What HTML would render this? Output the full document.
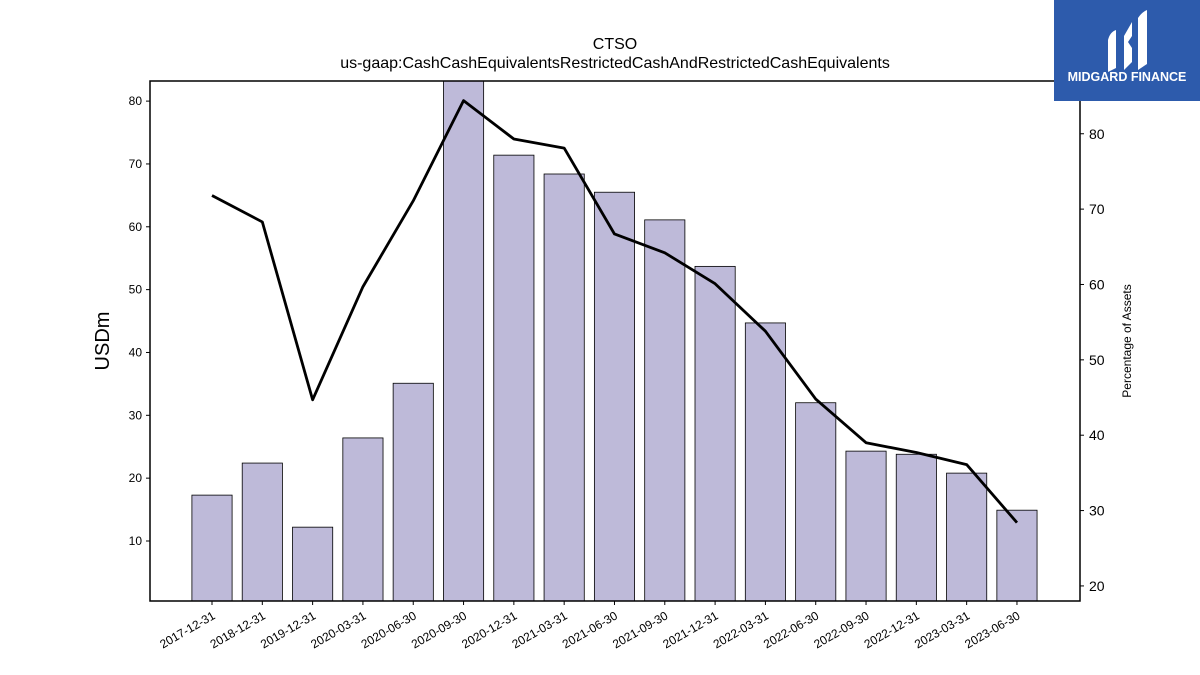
<!DOCTYPE html>
<html><head><meta charset="utf-8"><style>
body{margin:0;background:#fff;font-family:"Liberation Sans","DejaVu Sans",sans-serif}
svg{display:block}
</style></head><body>
<svg id="chart" width="1200" height="675" xmlns="http://www.w3.org/2000/svg">
<rect width="1200" height="675" fill="#fff"/>
<text x="615" y="49" text-anchor="middle" font-size="16">CTSO</text>
<text x="615" y="68" text-anchor="middle" font-size="16">us-gaap:CashCashEquivalentsRestrictedCashAndRestrictedCashEquivalents</text>
<g id="bars"></g>
<g id="line"></g>
<rect x="150" y="81" width="930" height="520" fill="none" stroke="#000" stroke-width="1.5"/>
<g id="axes"></g>
<text transform="translate(109,341) rotate(-90)" text-anchor="middle" font-size="20">USDm</text>
<text transform="translate(1131,341) rotate(-90)" text-anchor="middle" font-size="12">Percentage of Assets</text>
<g>
<rect x="1054" y="0" width="146" height="101" fill="#2d5bac"/>
<path d="M1108 40 Q1110 32 1116 30 L1116 68 L1108 72 Z M1124 36 L1132 22 L1132 36 L1128 42 L1132 48 L1132 62 L1124 70 Z M1138 18 Q1142 12 1147 10 L1147 64 L1138 70 Z" fill="#fff"/>
<text x="1127" y="81" text-anchor="middle" font-size="12.5" font-weight="bold" fill="#fff">MIDGARD FINANCE</text>
</g>
</svg>
<script>
const categories=["2017-12-31","2018-12-31","2019-12-31","2020-03-31","2020-06-30","2020-09-30","2020-12-31","2021-03-31","2021-06-30","2021-09-30","2021-12-31","2022-03-31","2022-06-30","2022-09-30","2022-12-31","2023-03-31","2023-06-30"];
const cashValues=[17.3,22.4,12.2,26.4,35.1,90,71.4,68.4,65.5,61.1,53.7,44.7,32.0,24.3,23.8,20.8,14.9];
const pctAssets=[71.8,68.3,44.7,59.7,71.1,84.4,79.3,78.1,66.7,64.2,60.1,53.8,44.8,39.0,37.7,36.1,28.4];
const leftTicks=[10,20,30,40,50,60,70,80];
const rightTicks=[20,30,40,50,60,70,80];
const NS="http://www.w3.org/2000/svg";
const L=150,R=1080,T=81,B=601;
const yL=v=>B-(v-0.45)*(B-T)/(83.2-0.45);
const yR=v=>B-(v-18.0)*(B-T)/(87.0-18.0);
const xC=i=>212+i*50.31;
function mk(tag,attrs,parent){const e=document.createElementNS(NS,tag);for(const k in attrs)e.setAttribute(k,attrs[k]);parent.appendChild(e);return e;}
const bars=document.getElementById('bars'),line=document.getElementById('line'),axes=document.getElementById('axes');
cashValues.forEach((v,i)=>{
 const top=Math.max(yL(v),T);
 const r=mk('rect',{x:xC(i)-20.1,y:top,width:40.2,height:B-top,fill:'#bebad9',stroke:'#000','stroke-width':0.8},bars);
 
 
});
const p=mk('polyline',{points:pctAssets.map((v,i)=>xC(i)+','+yR(v)).join(' '),fill:'none',stroke:'#000','stroke-width':2.8,'stroke-linejoin':'round'},line);


leftTicks.forEach(t=>{
 const y=yL(t);
 mk('line',{x1:L-4,x2:L,y1:y,y2:y,stroke:'#000'},axes);
 const tx=mk('text',{x:L-8,y:y+4,'text-anchor':'end','font-size':12},axes);tx.textContent=t;
 
 
});
rightTicks.forEach(t=>{
 const y=yR(t);
 mk('line',{x1:R,x2:R+4,y1:y,y2:y,stroke:'#000'},axes);
 const tx=mk('text',{x:R+9,y:y+5,'font-size':14},axes);tx.textContent=t;
 
 
});
categories.forEach((c,i)=>{
 const x=xC(i);
 mk('line',{x1:x,x2:x,y1:B,y2:B+4,stroke:'#000'},axes);
 const tx=mk('text',{x:x+4,y:618,'text-anchor':'end','font-size':12,transform:'rotate(-30 '+(x+4)+' 618)'},axes);
 tx.textContent=c;
 
 
});
</script>
</body></html>
